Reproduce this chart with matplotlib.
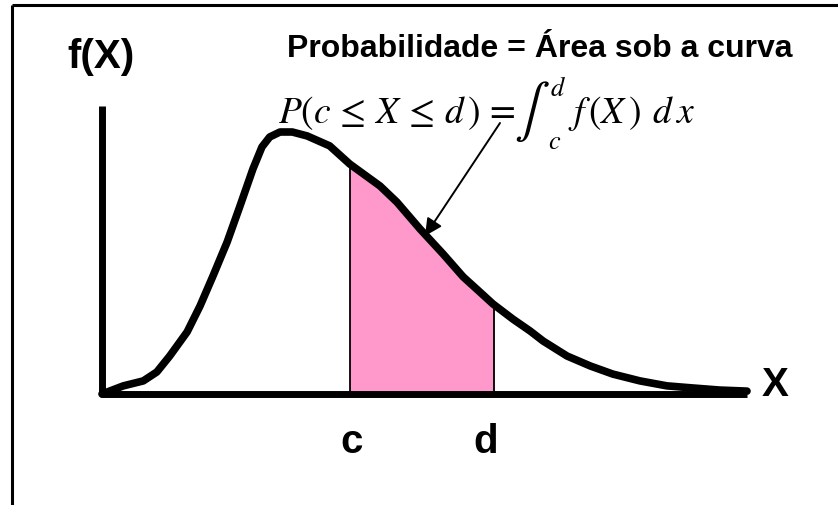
import numpy as np
import matplotlib
matplotlib.use("Agg")
import matplotlib.pyplot as plt

# ---- data (x axis 0..10, peak ~1) ----
curve_x = [0.00, 0.33, 0.64, 0.85, 1.05, 1.32, 1.52, 1.72, 1.94, 2.14, 2.34, 2.48,
           2.60, 2.76, 2.95, 3.18, 3.53, 3.84, 4.31, 4.57, 4.93, 5.29, 5.60, 5.86,
           6.06, 6.37, 6.64, 6.84, 7.21, 7.57, 7.92, 8.34, 8.76, 9.16, 9.58, 10.00]
curve_y = [0.000, 0.031, 0.050, 0.084, 0.145, 0.237, 0.336, 0.450, 0.580, 0.718, 0.859, 0.943,
           0.981, 1.000, 1.000, 0.985, 0.947, 0.878, 0.794, 0.733, 0.630, 0.534, 0.447, 0.389,
           0.344, 0.286, 0.240, 0.202, 0.145, 0.107, 0.076, 0.050, 0.031, 0.023, 0.015, 0.011]
c_val = 3.84
d_val = 6.08
x_max = 10.0
y_axis_top = 1.10

title_text = "Probabilidade = Área sob a curva"
formula_left = r"$P(c\,\leq\,X\,\leq\,d\,)\,=$"
formula_int = r"$\int$"
formula_lower = r"$c$"
formula_upper = r"$d$"
formula_right = r"$f\,(X\,)\;\,d\,x$"
ylabel_text = "f(X)"
xlabel_text = "X"
c_label = "c"
d_label = "d"

# ---- layout helpers (pixel -> data) ----
W, H = 838, 506
OX, OY = 102.0, 395.0      # pixel position of the origin
SX, SY = 64.5, 262.0       # pixels per data unit


def P(px, py):
    return (px - OX) / SX, (OY - py) / SY


plt.rcParams["mathtext.fontset"] = "stix"

fig = plt.figure(figsize=(W / 100, H / 100), dpi=100)
ax = fig.add_axes([0, 0, 1, 1])
ax.set_xlim(-OX / SX, (W - OX) / SX)
ax.set_ylim((OY - H) / SY, OY / SY)
ax.axis("off")

cx = np.array(curve_x)
cy = np.array(curve_y)

# shaded area between c and d
inner = cx[(cx > c_val) & (cx < d_val)]
fx = np.concatenate([[c_val], inner, [d_val]])
fy = np.interp(fx, cx, cy)
ax.fill_between(fx, 0, fy, color="#FF99CC", lw=0, zorder=1)
ax.plot([c_val, c_val], [0, np.interp(c_val, cx, cy)], color="black", lw=1.3, zorder=2)
ax.plot([d_val, d_val], [0, np.interp(d_val, cx, cy)], color="black", lw=1.3, zorder=2)

# axes
ax.plot([0, 0, x_max], [y_axis_top, 0, 0], color="black", lw=5.0,
        solid_joinstyle="round", solid_capstyle="butt", zorder=3)

# density curve
ax.plot(cx, cy, color="black", lw=5.5, solid_joinstyle="round",
        solid_capstyle="round", zorder=4)

# arrow
ax.annotate("", xy=P(425, 237), xytext=P(500, 124),
            arrowprops=dict(arrowstyle="-|>", lw=1.4, color="black",
                            mutation_scale=26, shrinkA=0, shrinkB=0),
            zorder=5)

# frame lines (top and left)
ax.plot([11.5 / W, 1.0], [1 - 6 / H, 1 - 6 / H], color="black", lw=2.2,
        transform=ax.transAxes, clip_on=False, solid_capstyle="butt")
ax.plot([11.5 / W, 11.5 / W], [1 - 6 / H, 0], color="black", lw=2.2,
        transform=ax.transAxes, clip_on=False, solid_capstyle="butt")

bold = dict(fontfamily="Liberation Sans", fontweight="bold", color="black")
ax.text(*P(540, 57), title_text, ha="center", va="baseline", fontsize=23, **bold)
ax.text(*P(101, 68), ylabel_text, ha="center", va="baseline", fontsize=29, **bold)
ax.text(*P(775, 396), xlabel_text, ha="center", va="baseline", fontsize=29, **bold)
ax.text(*P(352, 453), c_label, ha="center", va="baseline", fontsize=29, **bold)
ax.text(*P(486, 453), d_label, ha="center", va="baseline", fontsize=29, **bold)

# formula
ax.text(*P(278, 123), formula_left, ha="left", va="baseline", fontsize=27, color="black")
ax.text(*P(532, 112), formula_int, ha="center", va="center", fontsize=38, color="black")
ax.text(*P(555, 142), formula_lower, ha="center", va="center", fontsize=19, color="black")
ax.text(*P(558, 89), formula_upper, ha="center", va="center", fontsize=19, color="black")
ax.text(*P(568, 123), formula_right, ha="left", va="baseline", fontsize=27, color="black")

fig.savefig("out.png", dpi=100)
